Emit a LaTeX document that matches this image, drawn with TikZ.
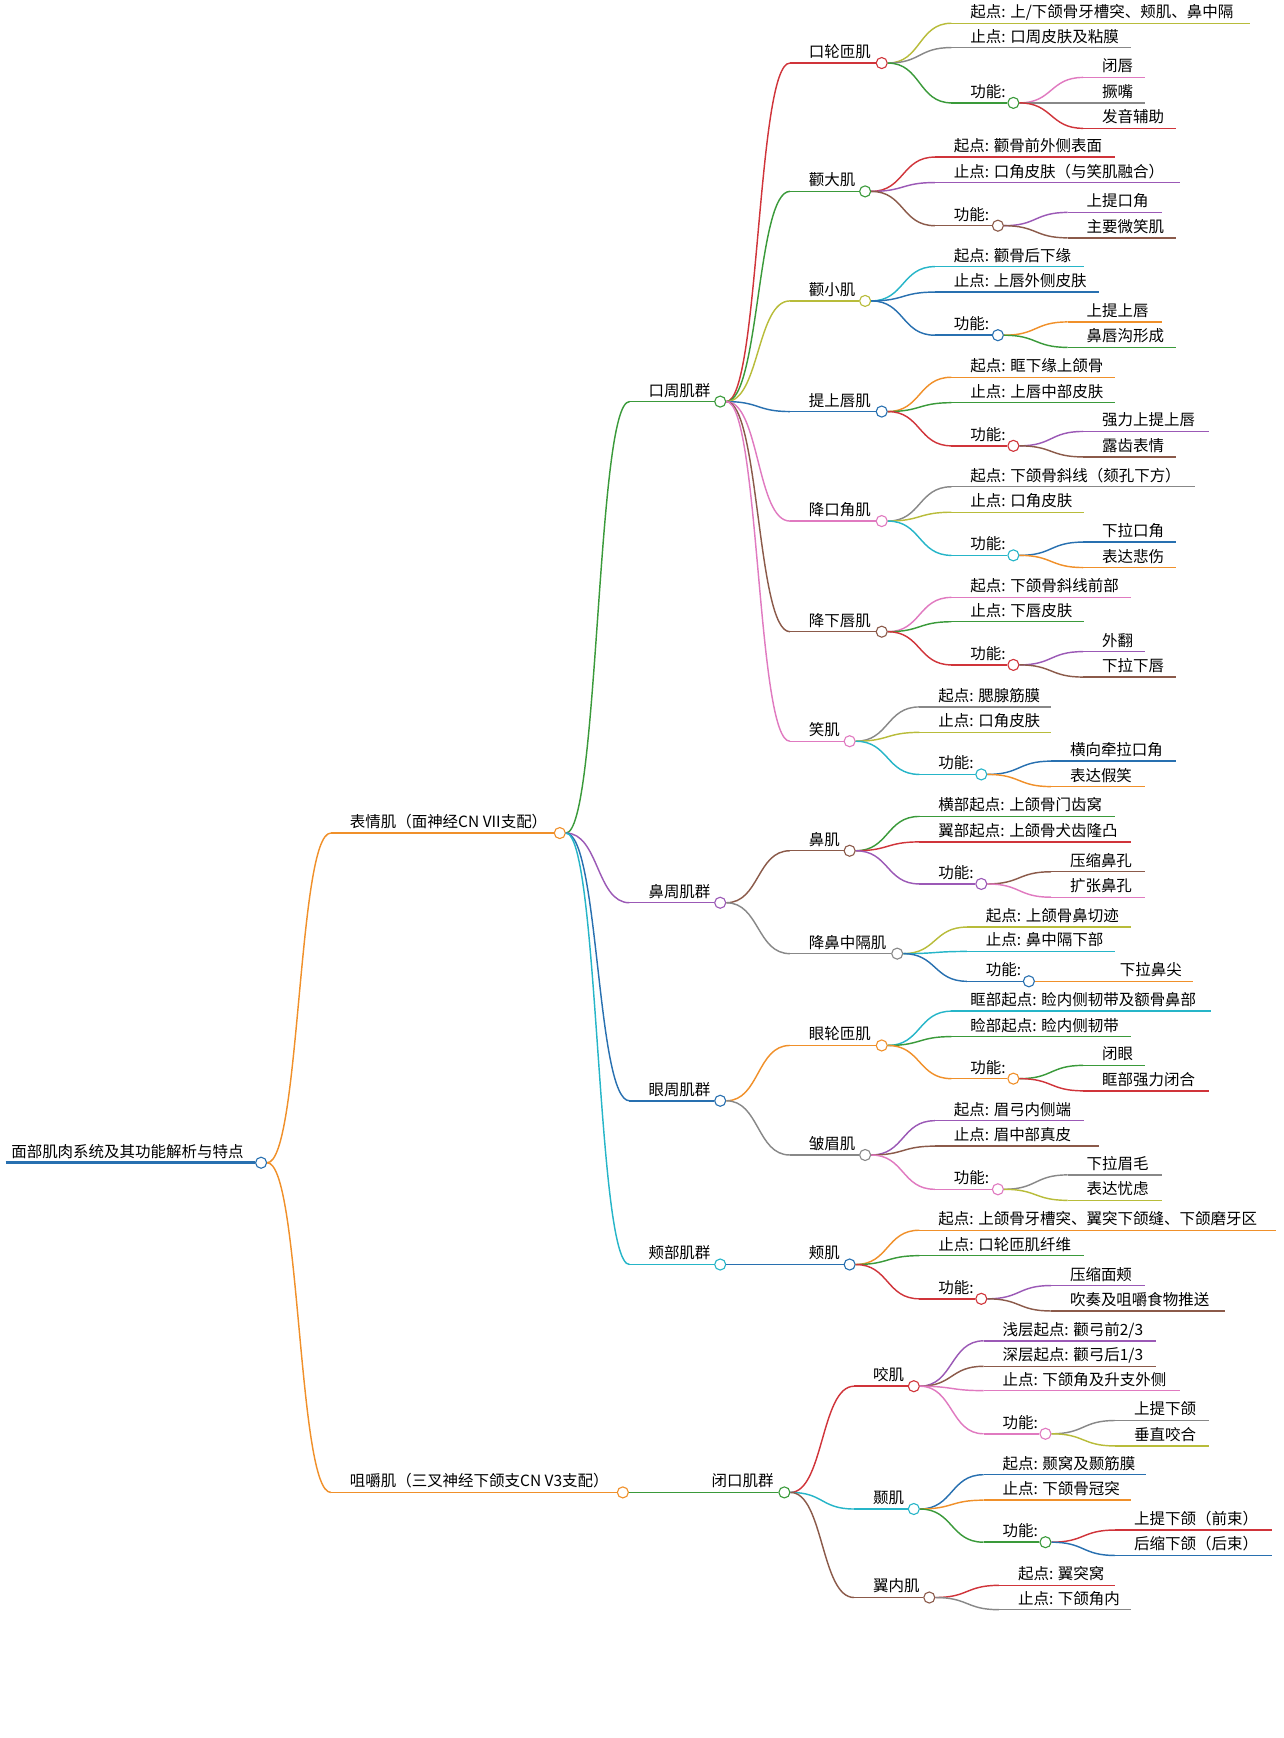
\documentclass[tikz,border=0pt]{standalone}
\usepackage{fontspec}
\setmainfont{Noto Sans CJK SC}
\definecolor{cg}{HTML}{3A9A3A}
\definecolor{co}{HTML}{F0902A}
\definecolor{cp}{HTML}{9B59B6}
\definecolor{cb}{HTML}{2870B0}
\definecolor{cc}{HTML}{26B5C8}
\definecolor{cr}{HTML}{D0343A}
\definecolor{ck}{HTML}{E07AC0}
\definecolor{cn}{HTML}{8B5A4A}
\definecolor{ca}{HTML}{888888}
\definecolor{cl}{HTML}{B8BC3A}
\tikzset{br/.style={line width=1.3pt},
 dot/.style={circle,draw,fill=white,line width=1pt,minimum size=10pt,inner sep=0pt},
 lbl/.style={anchor=base west,inner sep=0pt,font=\fontsize{14}{16}\selectfont}}
% #1 parent circle, #2 name, #3 parent cx, #4 y, #5 xend (circle x if internal), #6 color, #7 text, #8 internal?
\newcommand\nd[8]{%
 \coordinate (#2s) at (#3+63,#4);
 \draw[#6,br] (#1.east) .. controls +(30,0) and +(-30,0) .. (#2s);
 \node[lbl] (#2t) at (#3+80,#4-5) {#7};
 \ifnum#8=1
  \node[dot,draw=#6] (#2) at (#5,#4) {};
  \draw[#6,br] (#2s) -- (#2.west);
 \else
  \draw[#6,br] (#2s) -- (#5,#4);
 \fi}
\begin{document}
\begin{tikzpicture}[x=1pt,y=-1pt]
\useasboundingbox (0,0) rectangle (1160,1571);
\node[dot,draw=cb] (root) at (236,1051) {};
\draw[cb,line width=3pt] (5,1051) -- (root.west);
\node[lbl] (roott) at (10,1046) {面部肌肉系统及其功能解析与特点};
\nd{root}{A}{236}{753}{506}{co}{表情肌（面神经CN VII支配）}{1}
\nd{root}{B}{236}{1349}{563}{co}{咀嚼肌（三叉神经下颌支CN V3支配）}{1}
\nd{A}{kz}{506}{363}{651}{cg}{口周肌群}{1}
\nd{A}{bz}{506}{816}{651}{cp}{鼻周肌群}{1}
\nd{A}{yz}{506}{995}{651}{cb}{眼周肌群}{1}
\nd{A}{jz}{506}{1143}{651}{cc}{颊部肌群}{1}
\nd{B}{bk}{563}{1349}{709}{cg}{闭口肌群}{1}
% 口轮匝肌
\nd{kz}{m1}{651}{57}{797}{cr}{口轮匝肌}{1}
\nd{m1}{m1a}{797}{21}{1130}{cl}{起点: 上/下颌骨牙槽突、颊肌、鼻中隔}{0}
\nd{m1}{m1b}{797}{43}{1022}{ca}{止点: 口周皮肤及粘膜}{0}
\nd{m1}{m1f}{797}{93}{916}{cg}{功能:}{1}
\nd{m1f}{m1x}{916}{70}{1035}{ck}{闭唇}{0}
\nd{m1f}{m1y}{916}{93}{1035}{ca}{撅嘴}{0}
\nd{m1f}{m1z}{916}{116}{1063}{cr}{发音辅助}{0}
% 颧大肌
\nd{kz}{m2}{651}{173}{782}{cg}{颧大肌}{1}
\nd{m2}{m2a}{782}{142}{1008}{cr}{起点: 颧骨前外侧表面}{0}
\nd{m2}{m2b}{782}{165}{1067}{cp}{止点: 口角皮肤（与笑肌融合）}{0}
\nd{m2}{m2f}{782}{204}{902}{cn}{功能:}{1}
\nd{m2f}{m2x}{902}{192}{1050}{cp}{上提口角}{0}
\nd{m2f}{m2y}{902}{215}{1063}{cn}{主要微笑肌}{0}
% 颧小肌
\nd{kz}{m3}{651}{272}{782}{cl}{颧小肌}{1}
\nd{m3}{m3a}{782}{241}{980}{cc}{起点: 颧骨后下缘}{0}
\nd{m3}{m3b}{782}{264}{993}{cb}{止点: 上唇外侧皮肤}{0}
\nd{m3}{m3f}{782}{303}{902}{cb}{功能:}{1}
\nd{m3f}{m3x}{902}{291}{1050}{co}{上提上唇}{0}
\nd{m3f}{m3y}{902}{314}{1063}{cg}{鼻唇沟形成}{0}
% 提上唇肌
\nd{kz}{m4}{651}{372}{797}{cb}{提上唇肌}{1}
\nd{m4}{m4a}{797}{341}{1008}{co}{起点: 眶下缘上颌骨}{0}
\nd{m4}{m4b}{797}{364}{1008}{cg}{止点: 上唇中部皮肤}{0}
\nd{m4}{m4f}{797}{403}{916}{cr}{功能:}{1}
\nd{m4f}{m4x}{916}{390}{1093}{cp}{强力上提上唇}{0}
\nd{m4f}{m4y}{916}{413}{1063}{cn}{露齿表情}{0}
% 降口角肌
\nd{kz}{m5}{651}{471}{797}{ck}{降口角肌}{1}
\nd{m5}{m5a}{797}{440}{1080}{ca}{起点: 下颌骨斜线（颏孔下方）}{0}
\nd{m5}{m5b}{797}{463}{980}{cl}{止点: 口角皮肤}{0}
\nd{m5}{m5f}{797}{502}{916}{cc}{功能:}{1}
\nd{m5f}{m5x}{916}{490}{1063}{cb}{下拉口角}{0}
\nd{m5f}{m5y}{916}{513}{1063}{co}{表达悲伤}{0}
% 降下唇肌
\nd{kz}{m6}{651}{571}{797}{cn}{降下唇肌}{1}
\nd{m6}{m6a}{797}{540}{1022}{ck}{起点: 下颌骨斜线前部}{0}
\nd{m6}{m6b}{797}{562}{980}{cg}{止点: 下唇皮肤}{0}
\nd{m6}{m6f}{797}{601}{916}{cr}{功能:}{1}
\nd{m6f}{m6x}{916}{589}{1035}{cp}{外翻}{0}
\nd{m6f}{m6y}{916}{612}{1063}{cn}{下拉下唇}{0}
% 笑肌
\nd{kz}{m7}{651}{670}{768}{ck}{笑肌}{1}
\nd{m7}{m7a}{768}{639}{950}{ca}{起点: 腮腺筋膜}{0}
\nd{m7}{m7b}{768}{662}{950}{cl}{止点: 口角皮肤}{0}
\nd{m7}{m7f}{768}{700}{887}{cc}{功能:}{1}
\nd{m7f}{m7x}{887}{688}{1063}{cb}{横向牵拉口角}{0}
\nd{m7f}{m7y}{887}{711}{1035}{co}{表达假笑}{0}
% 鼻肌
\nd{bz}{n1}{651}{769}{768}{cn}{鼻肌}{1}
\nd{n1}{n1a}{768}{738}{1008}{cg}{横部起点: 上颌骨门齿窝}{0}
\nd{n1}{n1b}{768}{761}{1022}{cr}{翼部起点: 上颌骨犬齿隆凸}{0}
\nd{n1}{n1f}{768}{799}{887}{cp}{功能:}{1}
\nd{n1f}{n1x}{887}{788}{1035}{cn}{压缩鼻孔}{0}
\nd{n1f}{n1y}{887}{811}{1035}{ck}{扩张鼻孔}{0}
% 降鼻中隔肌
\nd{bz}{n2}{651}{862}{811}{ca}{降鼻中隔肌}{1}
\nd{n2}{n2a}{811}{838}{1022}{cl}{起点: 上颌骨鼻切迹}{0}
\nd{n2}{n2b}{811}{860}{1008}{cc}{止点: 鼻中隔下部}{0}
\nd{n2}{n2f}{811}{887}{930}{cb}{功能:}{1}
\draw[co,br] (n2f.east) -- (1078,887);
\node[lbl] (n2xt) at (1012,882) {下拉鼻尖};
% 眼轮匝肌
\nd{yz}{e1}{651}{945}{797}{co}{眼轮匝肌}{1}
\nd{e1}{e1a}{797}{914}{1095}{cc}{眶部起点: 睑内侧韧带及额骨鼻部}{0}
\nd{e1}{e1b}{797}{937}{1022}{cg}{睑部起点: 睑内侧韧带}{0}
\nd{e1}{e1f}{797}{975}{916}{co}{功能:}{1}
\nd{e1f}{e1x}{916}{963}{1035}{cg}{闭眼}{0}
\nd{e1f}{e1y}{916}{986}{1093}{cr}{眶部强力闭合}{0}
% 皱眉肌
\nd{yz}{e2}{651}{1044}{782}{ca}{皱眉肌}{1}
\nd{e2}{e2a}{782}{1013}{980}{cp}{起点: 眉弓内侧端}{0}
\nd{e2}{e2b}{782}{1036}{993}{cn}{止点: 眉中部真皮}{0}
\nd{e2}{e2f}{782}{1075}{902}{ck}{功能:}{1}
\nd{e2f}{e2x}{902}{1062}{1050}{ca}{下拉眉毛}{0}
\nd{e2f}{e2y}{902}{1085}{1050}{cl}{表达忧虑}{0}
% 颊肌
\nd{jz}{j1}{651}{1143}{768}{cb}{颊肌}{1}
\nd{j1}{j1a}{768}{1112}{1153}{co}{起点: 上颌骨牙槽突、翼突下颌缝、下颌磨牙区}{0}
\nd{j1}{j1b}{768}{1135}{980}{cg}{止点: 口轮匝肌纤维}{0}
\nd{j1}{j1f}{768}{1174}{887}{cr}{功能:}{1}
\nd{j1f}{j1x}{887}{1162}{1035}{cp}{压缩面颊}{0}
\nd{j1f}{j1y}{887}{1185}{1107}{cn}{吹奏及咀嚼食物推送}{0}
% 咬肌
\nd{bk}{c1}{709}{1253}{826}{cr}{咬肌}{1}
\nd{c1}{c1a}{826}{1212}{1045}{cp}{浅层起点: 颧弓前2/3}{0}
\nd{c1}{c1b}{826}{1235}{1045}{cn}{深层起点: 颧弓后1/3}{0}
\nd{c1}{c1c}{826}{1257}{1067}{ck}{止点: 下颌角及升支外侧}{0}
\nd{c1}{c1f}{826}{1296}{945}{ck}{功能:}{1}
\nd{c1f}{c1x}{945}{1284}{1093}{ca}{上提下颌}{0}
\nd{c1f}{c1y}{945}{1307}{1093}{cl}{垂直咬合}{0}
% 颞肌
\nd{bk}{c2}{709}{1364}{826}{cc}{颞肌}{1}
\nd{c2}{c2a}{826}{1333}{1036}{cb}{起点: 颞窝及颞筋膜}{0}
\nd{c2}{c2b}{826}{1356}{1022}{co}{止点: 下颌骨冠突}{0}
\nd{c2}{c2f}{826}{1394}{945}{cg}{功能:}{1}
\nd{c2f}{c2x}{945}{1383}{1150}{cr}{上提下颌（前束）}{0}
\nd{c2f}{c2y}{945}{1406}{1150}{cb}{后缩下颌（后束）}{0}
% 翼内肌
\nd{bk}{c3}{709}{1444}{840}{cn}{翼内肌}{1}
\nd{c3}{c3a}{840}{1433}{1008}{cr}{起点: 翼突窝}{0}
\nd{c3}{c3b}{840}{1455}{1022}{ca}{止点: 下颌角内}{0}
\end{tikzpicture}
\end{document}
